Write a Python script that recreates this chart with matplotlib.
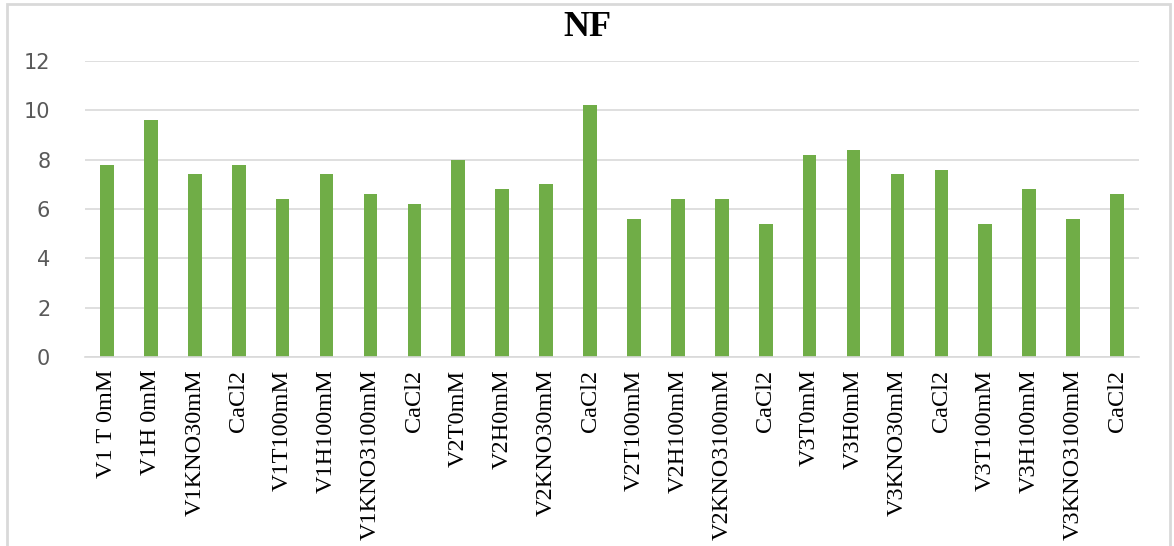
import matplotlib
matplotlib.use("Agg")
import matplotlib.pyplot as plt
import numpy as np
from matplotlib.patches import Rectangle

# Dados do gráfico NF
categorias = ['V1 T 0mM', 'V1H 0mM', 'V1KNO30mM', 'CaCl2',
              'V1T100mM', 'V1H100mM', 'V1KNO3100mM', 'CaCl2',
              'V2T0mM', 'V2H0mM', 'V2KNO30mM', 'CaCl2',
              'V2T100mM', 'V2H100mM', 'V2KNO3100mM', 'CaCl2',
              'V3T0mM', 'V3H0mM', 'V3KNO30mM', 'CaCl2',
              'V3T100mM', 'V3H100mM', 'V3KNO3100mM', 'CaCl2']
valores_nf = [7.8, 9.6, 7.4, 7.8, 6.4, 7.4, 6.6, 6.2,
              8.0, 6.8, 7.0, 10.2, 5.6, 6.4, 6.4, 5.4,
              8.2, 8.4, 7.4, 7.6, 5.4, 6.8, 5.6, 6.6]
y_ticks = [0, 2, 4, 6, 8, 10, 12]

W, H = 1174, 546
fig = plt.figure(figsize=(W / 100, H / 100), dpi=100)
ax = fig.add_axes([85 / W, 1 - 357 / H, (1139 - 85) / W, (357 - 61) / H])

x = np.arange(len(categorias))
ax.bar(x, valores_nf, width=0.31, color='#70ad47', zorder=2)

ax.set_xlim(-0.5, len(categorias) - 0.5)
ax.set_ylim(0, 12)
ax.set_yticks(y_ticks)
ax.set_yticklabels([str(t) for t in y_ticks], fontsize=15, color='#595959',
                   family='DejaVu Sans')
ax.set_xticks(x)
ax.set_xticklabels(categorias, rotation=90, fontsize=17.5,
                   family='Liberation Serif', color='black')
ax.tick_params(axis='both', length=0)
ax.tick_params(axis='y', pad=25)
ax.tick_params(axis='x', pad=9)

ax.grid(True, axis='y', color='#d9d9d9', linewidth=1.2, zorder=0)
for lado in ['top', 'right', 'left']:
    ax.spines[lado].set_visible(False)
ax.spines['bottom'].set_color('#d9d9d9')
ax.spines['bottom'].set_linewidth(1.2)

fig.text(0.5, 1 - 27 / H, 'NF', ha='center', va='center', fontsize=26,
         fontweight='bold', family='Liberation Serif')

# moldura do gráfico
fig.patches.append(Rectangle((7 / W, -0.05), (1170 - 7) / W, 1.05 - 4 / H,
                             transform=fig.transFigure, fill=False,
                             edgecolor='#d9d9d9', linewidth=2))

fig.savefig('out.png', dpi=100)
